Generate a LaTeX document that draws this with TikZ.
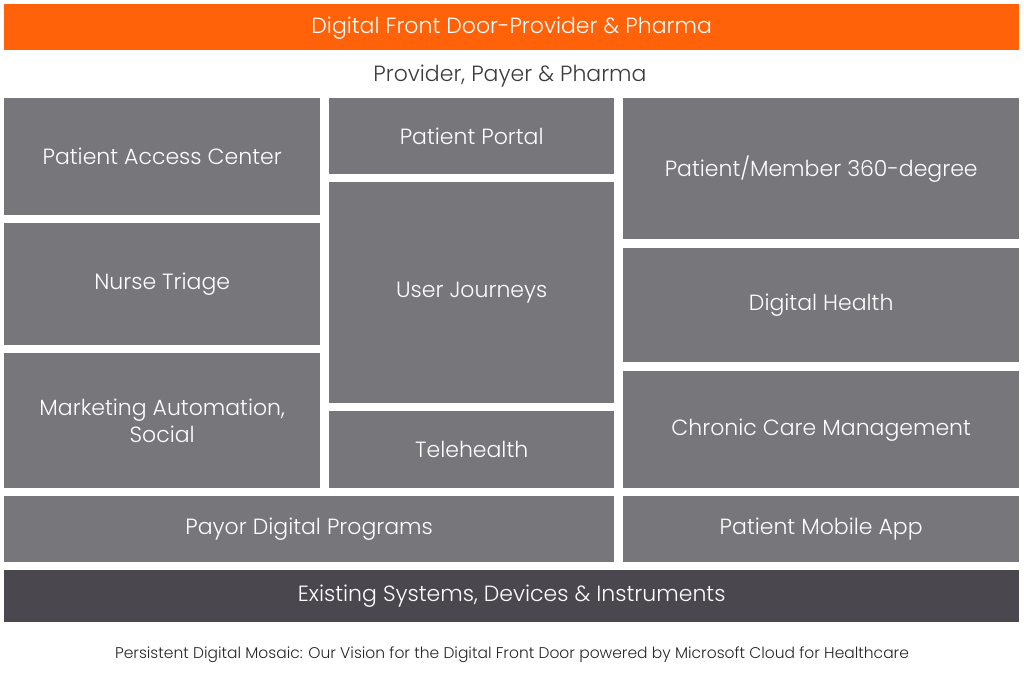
\documentclass[tikz,border=0pt]{standalone}
\usepackage{fontspec}
\setmainfont{Poppins Light}
\definecolor{dforange}{HTML}{FF6208}
\definecolor{tilegray}{HTML}{77767B}
\definecolor{basedark}{HTML}{4A474F}
\definecolor{textgray}{HTML}{3C3C3C}
\begin{document}
\begin{tikzpicture}[x=1pt,y=-1pt,
  tile/.style={fill=tilegray, draw=none, text=white, font=\fontsize{22}{27}\selectfont, align=center, inner sep=0pt},
  topbar/.style={tile, fill=dforange},
  basebar/.style={tile, fill=basedark},
  plain/.style={text=textgray, inner sep=0pt}]
\useasboundingbox (0,0) rectangle (1024,693);
% top bar
\node[topbar, minimum width=1015pt, minimum height=46pt, anchor=north west] (door) at (4,4) {};
\node[text=white, font=\fontsize{22}{25}\selectfont] (doorlbl) at ([yshift=-1pt]door.center) {Digital Front Door-Provider \& Pharma};
\node[plain, font=\fontsize{22}{25}\selectfont] (ppp) at (510,76) {Provider, Payer \& Pharma};
% left column
\node[tile, minimum width=316pt, minimum height=117pt, anchor=north west] (pac) at (4,98) {Patient Access Center};
\node[tile, minimum width=316pt, minimum height=122pt, anchor=north west] (nt) at (4,223) {Nurse Triage};
\node[tile, minimum width=316pt, minimum height=135pt, anchor=north west] (mas) at (4,353) {Marketing Automation,\\Social};
% middle column
\node[tile, minimum width=285pt, minimum height=76pt, anchor=north west] (pp) at (329,98) {Patient Portal};
\node[tile, minimum width=285pt, minimum height=221pt, anchor=north west] (uj) at (329,182) {User Journeys};
\node[tile, minimum width=285pt, minimum height=77pt, anchor=north west] (th) at (329,411) {Telehealth};
% right column
\node[tile, minimum width=396pt, minimum height=141pt, anchor=north west] (pm) at (623,98) {Patient/Member 360-degree};
\node[tile, minimum width=396pt, minimum height=114pt, anchor=north west] (dh) at (623,248) {Digital Health};
\node[tile, minimum width=396pt, minimum height=117pt, anchor=north west] (ccm) at (623,371) {Chronic Care Management};
% bottom rows
\node[tile, minimum width=610pt, minimum height=66pt, anchor=north west] (pdp) at (4,496) {Payor Digital Programs};
\node[tile, minimum width=396pt, minimum height=66pt, anchor=north west] (pma) at (623,496) {Patient Mobile App};
\node[basebar, minimum width=1015pt, minimum height=52pt, anchor=north west] (es) at (4,570) {Existing Systems, Devices \& Instruments};
% caption
\node[plain, text=black!85, font=\fontsize{15.5}{18}\selectfont] (cap) at (512,655) {Persistent Digital Mosaic: Our Vision for the Digital Front Door powered by Microsoft Cloud for Healthcare};
\end{tikzpicture}
\end{document}
